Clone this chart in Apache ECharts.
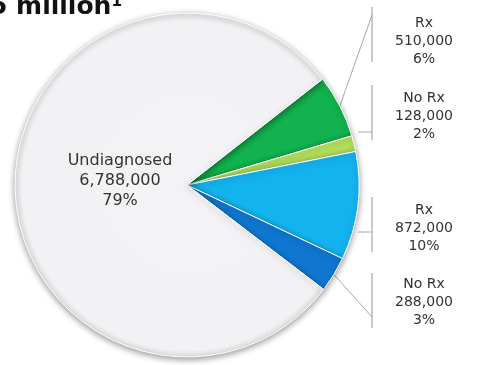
<!DOCTYPE html>
<html>
<head>
<meta charset="utf-8">
<script src="https://cdn.jsdelivr.net/npm/echarts@6/dist/echarts.min.js"></script>
<style>
  html, body { margin: 0; padding: 0; background: #fff; }
  #main { width: 477px; height: 365px; }
</style>
</head>
<body>
<div id="main"></div>
<script>
let chartDom = document.getElementById('main');
let myChart = echarts.init(chartDom);

// slices, clockwise from the top of the green slice
let names = ['Rx', 'No Rx', 'Rx', 'No Rx', 'Undiagnosed'];
let values = [510000, 128000, 872000, 288000, 6788000];
let percents = ['6%', '2%', '10%', '3%', '79%'];
let colors = ['#12b24e', '#b3df5a', '#13b3ef', '#0f77d0', '#f2f1f3'];

// where each label sits (center) and where its leader meets the bracket
let labelPos = [[424, 41], [424, 116], [424, 228], [424, 302], [120, 181]];
let leaderEnd = [[372, 15], [372, 132], [372, 232], [372, 317]];
let brackets = [[7, 62], [85, 140], [197, 252], [273, 328]];

let cx = 187, cy = 185, rad = 172;

function fmt(v) {
  return v.toLocaleString('en-US');
}

let data = values.map((v, i) => {
  let item = {
    name: names[i],
    value: v,
    itemStyle: { color: colors[i] }
  };
  if (i == 4) {
    item.itemStyle.color = {
      type: 'radial', x: cx, y: cy, r: rad, global: true,
      colorStops: [
        { offset: 0, color: '#f3f2f4' },
        { offset: 0.96, color: '#f2f1f3' },
        { offset: 1, color: '#e0dfe2' }
      ]
    };
    item.label = { position: 'inside', fontSize: 16, lineHeight: 20 };
    item.labelLine = { show: false };
  }
  return item;
});

let graphics = brackets.map(b => ({
  type: 'line',
  shape: { x1: 372, y1: b[0], x2: 372, y2: b[1] },
  style: { stroke: '#c9c9c9', lineWidth: 2 },
  z: 1
}));

graphics.push({
  type: 'text',
  left: -10,
  top: -5,
  style: {
    text: '5 million¹',
    font: 'bold 25px "DejaVu Sans", Verdana, sans-serif',
    fill: '#111'
  }
});

option = {
  backgroundColor: '#fff',
  animation: false,
  graphic: graphics,
  series: [
    {
      type: 'pie',
      center: [cx, cy],
      radius: [0, rad],
      startAngle: 38,
      clockwise: true,
      data: data,
      itemStyle: {
        borderColor: '#ffffff',
        borderWidth: 1,
        shadowBlur: 6,
        shadowOffsetY: 2,
        shadowColor: 'rgba(0,0,0,0.4)'
      },
      label: {
        show: true,
        position: 'outside',
        fontFamily: '"DejaVu Sans", Verdana, sans-serif',
        fontSize: 14,
        lineHeight: 18,
        color: '#333',
        align: 'center',
        formatter: p => p.name + '\n' + fmt(p.value) + '\n' + percents[p.dataIndex]
      },
      labelLine: {
        show: true,
        lineStyle: { color: '#a8a8a8', width: 1 }
      },
      labelLayout: function (params) {
        let i = params.dataIndex;
        let res = {
          x: labelPos[i][0],
          y: labelPos[i][1],
          align: 'center',
          verticalAlign: 'middle'
        };
        if (i < 4 && params.labelLinePoints) {
          let s = params.labelLinePoints[0];
          let e = leaderEnd[i];
          // the two middle labels get a short flat stub
          if (i == 1 || i == 2) s = [358, e[1]];
          res.labelLinePoints = [[s[0], s[1]], [e[0], e[1]], [e[0], e[1]]];
        }
        return res;
      }
    }
  ]
};

option && myChart.setOption(option);
</script>
</body>
</html>
